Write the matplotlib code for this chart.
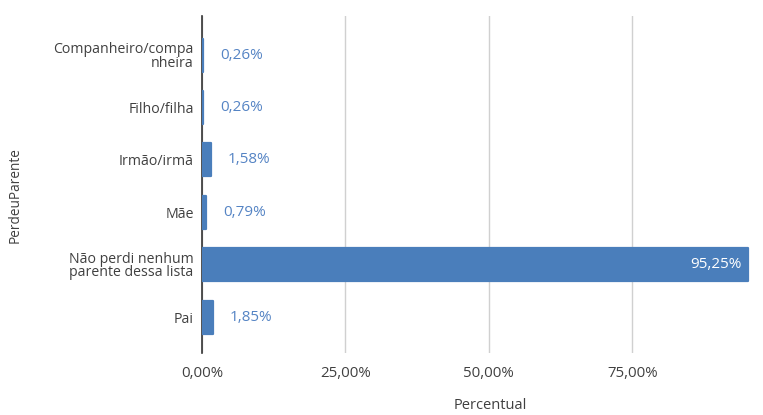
import numpy as np
import matplotlib.pyplot as plt
from matplotlib.ticker import FuncFormatter

plt.rcParams['font.family'] = ['Open Sans', 'DejaVu Sans']

# parentes perdidos (percentual de respostas)
categorias = ['Companheiro/compa\nnheira', 'Filho/filha', 'Irmão/irmã', 'Mãe',
              'Não perdi nenhum\nparente dessa lista', 'Pai']
percentual = [0.26, 0.26, 1.58, 0.79, 95.25, 1.85]
ticks_x = [0, 25, 50, 75]

azul = '#4a7ebb'
azul_txt = '#5584c4'
texto = '#404040'

fig = plt.figure(figsize=(7.63, 4.15), dpi=100)
ax = fig.add_axes([0.2647, 0.149, 0.718, 0.812])

y = np.arange(len(categorias))
bars = ax.barh(y, percentual, height=0.63, color=azul, edgecolor=azul,
               linewidth=1.6, joinstyle='round', zorder=3)

def fmt_pct(v):
    return f'{v:.2f}%'.replace('.', ',')

for b, v in zip(bars, percentual):
    yc = b.get_y() + b.get_height() / 2
    if v > 50:
        ax.annotate(fmt_pct(v), (v, yc), xytext=(-5, 0), textcoords='offset points',
                    ha='right', va='center', color='white', fontsize=11, zorder=4)
    else:
        ax.annotate(fmt_pct(v), (v, yc), xytext=(12, 0), textcoords='offset points',
                    ha='left', va='center', color=azul_txt, fontsize=11, zorder=4)

ax.set_yticks(y)
ax.set_yticklabels(categorias, fontsize=10.2, color=texto, linespacing=0.85)
ax.set_ylim(5.687, -0.744)
ax.set_xlim(0, 95.5)
ax.set_xticks(ticks_x)
ax.xaxis.set_major_formatter(FuncFormatter(lambda v, p: fmt_pct(v)))
ax.tick_params(axis='x', length=0, pad=9, labelsize=10.8, labelcolor=texto)
ax.tick_params(axis='y', length=0, pad=6)

ax.grid(axis='x', color='#d0d0d0', linewidth=1, zorder=0)
ax.grid(axis='y', visible=False)
for s in ['top', 'right', 'bottom']:
    ax.spines[s].set_visible(False)
ax.spines['left'].set_color('#333333')
ax.spines['left'].set_linewidth(1.2)
ax.spines['left'].set_zorder(2)

fig.text(0.642, 0.005, 'Percentual', ha='center', va='bottom', fontsize=10.5, color=texto)
fig.text(0.010, 0.53, 'PerdeuParente', rotation=90, ha='left', va='center',
         fontsize=9.8, color=texto)

fig.savefig('out.png', dpi=100)
